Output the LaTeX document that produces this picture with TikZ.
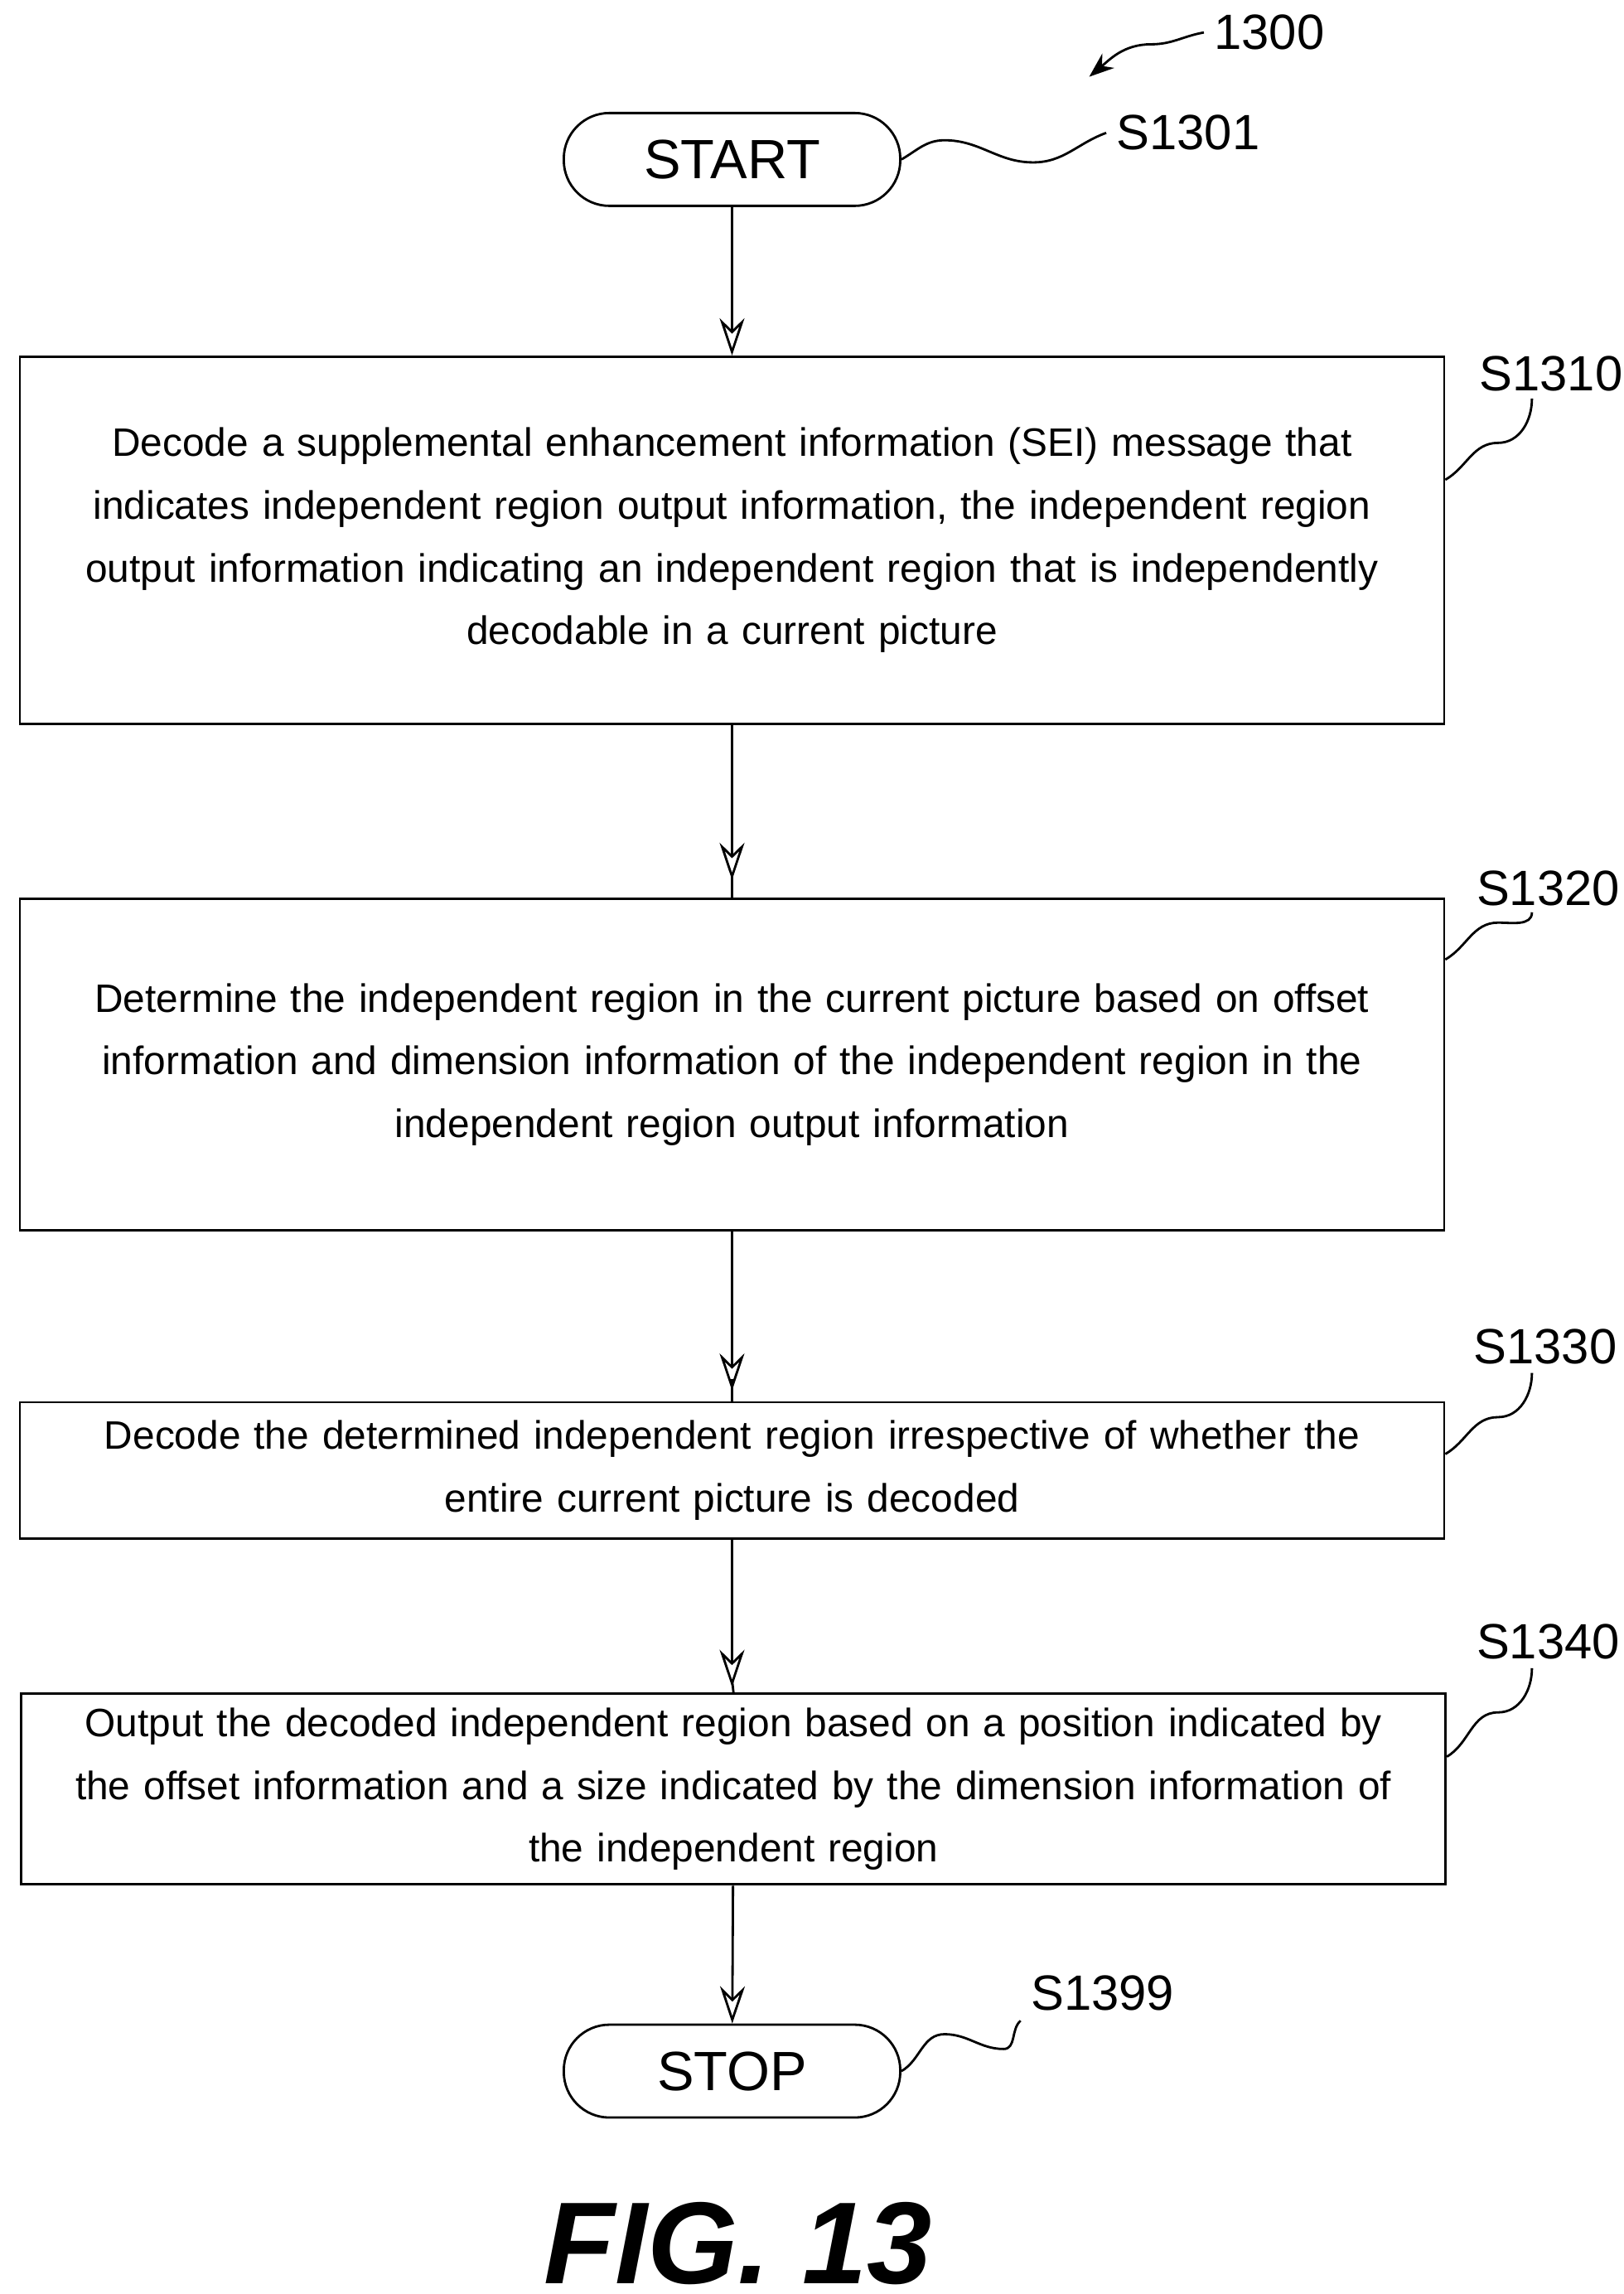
\documentclass[tikz,border=0pt]{standalone}
\usepackage{fontspec}
\setmainfont{Liberation Sans}
\usetikzlibrary{positioning,arrows.meta}
\tikzset{
  stepbox/.style={draw, thick, align=center, text width=16.95cm, font=\fontsize{13.6}{21.5}\selectfont},
  term/.style={draw, thick, rounded corners=0.55cm, minimum width=4.06cm, minimum height=1.12cm, font=\fontsize{19}{22}\selectfont},
  flow/.style={thick, -{Stealth[length=0.45cm, width=0.3cm, open]}},
  wave/.style={thick},
  tag/.style={font=\fontsize{17}{20}\selectfont}
}
\begin{document}
\begin{tikzpicture}[x=0.01781cm, y=-0.01781cm]
  \useasboundingbox (0,0) rectangle (1100,1554);
  % terminals and steps
  \node[term] (start) at (496,108) {START};
  \node[stepbox, minimum height=4.43cm] (s1310) at (496,366) {Decode a supplemental enhancement information (SEI) message that\\indicates independent region output information, the independent region\\output information indicating an independent region that is independently\\decodable in a current picture};
  \node[stepbox, minimum height=4.0cm] (s1320) at (496,721) {Determine the independent region in the current picture based on offset\\information and dimension information of the independent region in the\\independent region output information};
  \node[stepbox, minimum height=1.64cm] (s1330) at (496,996) {Decode the determined independent region irrespective of whether the\\entire current picture is decoded};
  \node[stepbox, minimum height=2.3cm] (s1340) at (497,1212) {Output the decoded independent region based on a position indicated by\\the offset information and a size indicated by the dimension information of\\the independent region};
  \node[term] (stop) at (496,1403) {STOP};
  % connectors
  \draw[flow] (start) -- (s1310);
  \draw[flow] (s1310.south) -- ++(0,105);
  \draw[thick] (s1310.south) ++(0,100) -- (s1320.north);
  \draw[flow] (s1320.south) -- ++(0,108);
  \draw[thick] (s1320.south) ++(0,100) -- (s1330.north);
  \draw[flow] (s1330.south) -- ++(0,100);
  \draw[thick] (s1330.south) ++(0,95) -- (s1340.north);
  \draw[flow] (s1340) -- (stop);
  % reference labels
  \node[tag] (l1300) at (860,22) {1300};
  \node[tag] (l1301) at (805,90) {S1301};
  \node[tag] (l1310) at (1051,253) {S1310};
  \node[tag] (l1320) at (1049,602) {S1320};
  \node[tag] (l1330) at (1047,912) {S1330};
  \node[tag] (l1340) at (1049,1112) {S1340};
  \node[tag] (l1399) at (747,1350) {S1399};
  \node[font=\fontsize{40}{44}\selectfont\bfseries\itshape] (fig) at (500,1520) {FIG. 13};
  \draw[wave, -{Stealth[length=0.3cm]}] (l1300.west) to[out=190,in=0] (780,30) to[out=180,in=40] (738,52);
  \draw[wave] (start.east) to[out=30,in=180] (640,95) to[out=0,in=180] (700,110) to[out=0,in=200] (l1301.west);
  \draw[wave] (s1310.east |- 0,325) to[out=30,in=180] (1015,300) to[out=0,in=270] (1038,270);
  \draw[wave] (s1320.east |- 0,650) to[out=30,in=180] (1015,625) to[out=0,in=270] (1038,618);
  \draw[wave] (s1330.east |- 0,985) to[out=30,in=180] (1015,960) to[out=0,in=270] (1038,930);
  \draw[wave] (s1340.east |- 0,1190) to[out=30,in=180] (1015,1160) to[out=0,in=270] (1038,1130);
  \draw[wave] (stop.east) to[out=30,in=180] (640,1378) to[out=0,in=180] (680,1388) to[out=0,in=220] (l1399.south west);
\end{tikzpicture}
\end{document}
